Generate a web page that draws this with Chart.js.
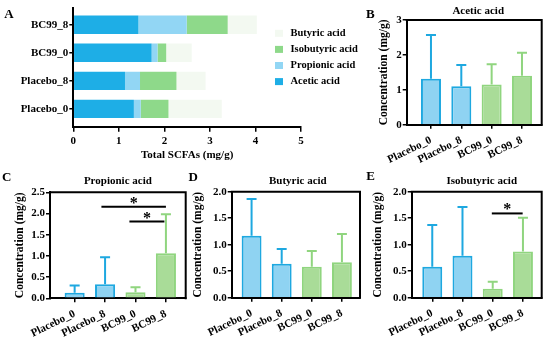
<!DOCTYPE html>
<html lang="en">
<head>
  <meta charset="utf-8">
  <title>SCFAs BC99 vs Placebo</title>
  <script src="https://cdn.jsdelivr.net/npm/chart.js"></script>
  <style>
    * { box-sizing:border-box; margin:0; padding:0 }
    body { background:#fff; width:550px; height:345px; overflow:hidden }
    #wrap { position:relative; width:550px; height:345px; background:#fff }
    canvas { position:absolute }
  </style>
</head>
<body>
  <div id="wrap">
    <canvas id="cA" width="390" height="165" style="left:0;top:0"></canvas>
    <canvas id="cB" width="205" height="165" style="left:345px;top:0"></canvas>
    <canvas id="cC" width="190" height="180" style="left:0;top:165px"></canvas>
    <canvas id="cD" width="180" height="180" style="left:185px;top:165px"></canvas>
    <canvas id="cE" width="185" height="180" style="left:365px;top:165px"></canvas>
  </div>

  <script>
  // ===== DATA =====
  const groups = ['Placebo_0', 'Placebo_8', 'BC99_0', 'BC99_8'];
  const acids  = ['Acetic acid', 'Propionic acid', 'Isobutyric acid', 'Butyric acid'];

  // panel A: stacked segments (mg/g), per group
  const totAcetic     = [1.33, 1.135, 1.72, 1.43];
  const totPropionic  = [0.15, 0.33, 0.13, 1.06];
  const totIsobutyric = [0.61, 0.80, 0.19, 0.90];
  const totButyric    = [1.17, 0.64, 0.56, 0.64];

  // panels B-E: mean and SD (mg/g)
  const aceticMean = [1.32, 1.10, 1.15, 1.40];
  const aceticSd   = [1.25, 0.61, 0.58, 0.66];
  const propMean   = [0.13, 0.33, 0.14, 1.06];
  const propSd     = [0.17, 0.64, 0.12, 0.92];
  const butMean    = [1.17, 0.64, 0.585, 0.67];
  const butSd      = [0.69, 0.28, 0.295, 0.53];
  const isoMean    = [0.585, 0.79, 0.17, 0.87];
  const isoSd      = [0.785, 0.92, 0.13, 0.64];

  // significance bars: from/to = group index, y = value
  const propSig = [{ from:0.88, to:3, y:2.16 }, { from:1.8, to:2.95, y:1.81 }];
  const isoSig  = [{ from:1.97, to:2.99, y:1.59 }];

  // ===== STYLE =====
  const serif = '"Liberation Serif", "Times New Roman", serif';
  const stackColors = ['#1eaee6', '#92d6f4', '#8ed98a', '#f3f9f1'];
  const fillCol = ['#8fd3f2', '#8fd3f2', '#a9dc98', '#a9dc98'];
  const lineCol = ['#1ea8e0', '#1ea8e0', '#90d57f', '#90d57f'];

  Chart.defaults.font.family = serif;
  Chart.defaults.font.weight = 'bold';
  Chart.defaults.color = '#000';

  // ===== PLUGINS =====
  const errorBars = {
    id: 'errorBars',
    afterDatasetsDraw(chart, args, opts) {
      if (!opts.sd) return;
      const ctx = chart.ctx, y = chart.scales.y;
      const ds = chart.data.datasets[0];
      ctx.save();
      ctx.lineWidth = 2;
      chart.getDatasetMeta(0).data.forEach((bar, i) => {
        const top = y.getPixelForValue(ds.data[i].y + opts.sd[i]);
        const cap = bar.width / 4;
        ctx.strokeStyle = lineCol[i];
        ctx.beginPath();
        ctx.moveTo(bar.x, bar.y);
        ctx.lineTo(bar.x, top);
        ctx.moveTo(bar.x - cap, top);
        ctx.lineTo(bar.x + cap, top);
        ctx.stroke();
      });
      ctx.restore();
    }
  };

  const sigBars = {
    id: 'sigBars',
    afterDatasetsDraw(chart, args, opts) {
      if (!opts.lines) return;
      const ctx = chart.ctx, x = chart.scales.x, y = chart.scales.y;
      ctx.save();
      ctx.strokeStyle = '#000';
      ctx.fillStyle = '#000';
      ctx.lineWidth = 2;
      ctx.font = 'bold 16px ' + serif;
      ctx.textAlign = 'center';
      ctx.textBaseline = 'alphabetic';
      opts.lines.forEach(s => {
        const x1 = x.getPixelForValue(s.from), x2 = x.getPixelForValue(s.to);
        const yp = y.getPixelForValue(s.y);
        ctx.beginPath();
        ctx.moveTo(x1, yp);
        ctx.lineTo(x2, yp);
        ctx.stroke();
        ctx.fillText('*', (x1 + x2) / 2, yp + 1);
      });
      ctx.restore();
    }
  };

  const frame = {
    id: 'frame',
    afterDraw(chart, args, opts) {
      if (!opts.on) return;
      const { left, top, right, bottom } = chart.chartArea;
      const ctx = chart.ctx;
      ctx.save();
      ctx.strokeStyle = '#000';
      ctx.lineWidth = 2;
      ctx.beginPath();
      ctx.moveTo(left - 1, top);
      ctx.lineTo(right, top);
      ctx.lineTo(right, bottom + 1);
      ctx.stroke();
      ctx.restore();
    }
  };

  const panelText = {
    id: 'panelText',
    afterDraw(chart, args, opts) {
      const ctx = chart.ctx, ca = chart.chartArea;
      ctx.save();
      ctx.fillStyle = '#000';
      ctx.textBaseline = 'middle';
      ctx.textAlign = 'center';
      ctx.font = 'bold 13px ' + serif;
      ctx.fillText(opts.letter, opts.lx, opts.ly);
      if (opts.title) {
        ctx.font = 'bold 11px ' + serif;
        ctx.fillText(opts.title, (ca.left + ca.right) / 2 + (opts.dx || 0), opts.ty);
      }
      ctx.restore();
    }
  };

  const sideLegend = {
    id: 'sideLegend',
    afterDraw(chart, args, opts) {
      if (!opts.on) return;
      const ctx = chart.ctx;
      const items = chart.data.datasets.slice().reverse();
      ctx.save();
      ctx.font = 'bold 10.5px ' + serif;
      ctx.textBaseline = 'middle';
      ctx.textAlign = 'left';
      items.forEach((ds, i) => {
        const yy = opts.y + i * opts.step;
        ctx.fillStyle = ds.backgroundColor;
        ctx.fillRect(opts.x, yy - 3.5, 8, 7);
        ctx.fillStyle = '#000';
        ctx.fillText(ds.label, opts.x + 15.5, yy);
      });
      ctx.restore();
    }
  };

  const axisGrid = { display:true, offset:false, drawOnChartArea:false, drawTicks:true, tickLength:4, color:'#000', lineWidth:1.5 };
  const axisBorder = { display:true, color:'#000', width:2 };

  // ===== PANEL A =====
  const totals = [totAcetic, totPropionic, totIsobutyric, totButyric];
  new Chart(document.getElementById('cA'), {
    type: 'bar',
    data: {
      datasets: acids.map((a, k) => ({
        label: a,
        data: totals[k].map((v, i) => ({ x: v, y: i })),
        backgroundColor: stackColors[k],
        borderWidth: 0,
        barPercentage: 0.655,
        categoryPercentage: 1
      }))
    },
    options: {
      indexAxis: 'y', responsive: false, animation: false,
      layout: { padding: { left: 0, top: 7, right: 89, bottom: 0 } },
      plugins: {
        legend: { display: false }, tooltip: { enabled: false },
        sideLegend: { on: true, x: 275, y: 33.3, step: 16.1 },
        panelText: { letter: 'A', lx: 9, ly: 15 }
      },
      scales: {
        x: {
          type: 'linear', stacked: true, min: 0, max: 5, offset: false,
          afterFit: s => { s.height = 38.3; },
          ticks: { stepSize: 1, font: { size: 11 }, padding: 3 },
          title: { display: true, text: 'Total SCFAs (mg/g)', font: { size: 11 }, padding: { top: 0, bottom: 3 } },
          grid: Object.assign({}, axisGrid, { tickLength: 5 }),
          border: axisBorder
        },
        y: {
          type: 'linear', stacked: true, min: -0.635, max: 3.61, offset: false,
          afterBuildTicks: s => { s.ticks = groups.map((g, i) => ({ value: i })); },
          afterFit: s => { s.width = 73.3; },
          ticks: { callback: v => groups[v], font: { size: 11 }, padding: 1, autoSkip: false },
          grid: axisGrid,
          border: axisBorder
        }
      }
    },
    plugins: [sideLegend, panelText]
  });

  // ===== PANELS B-E =====
  function barPanel(id, mean, sd, yMax, yStep, dec, xMin, xMax, L, text, sig) {
    return new Chart(document.getElementById(id), {
      type: 'bar',
      data: {
        datasets: [{
          data: mean.map((v, i) => ({ x: i, y: v })),
          backgroundColor: fillCol,
          borderColor: lineCol,
          borderWidth: 2,
          barPercentage: 0.66,
          categoryPercentage: 1
        }]
      },
      options: {
        responsive: false, animation: false,
        layout: { padding: { left: 0, top: L.top, right: L.right, bottom: 0 } },
        plugins: {
          legend: { display: false }, tooltip: { enabled: false },
          errorBars: { sd: sd },
          sigBars: { lines: sig },
          frame: { on: true },
          panelText: text
        },
        scales: {
          x: {
            type: 'linear', min: xMin, max: xMax, offset: false,
            afterBuildTicks: s => { s.ticks = groups.map((g, i) => ({ value: i })); },
            afterFit: s => { s.height = L.xh; },
            ticks: { callback: v => groups[v], minRotation: 26, maxRotation: 26, autoSkip: false, padding: 5, font: { size: 11 } },
            grid: axisGrid,
            border: axisBorder
          },
          y: {
            min: 0, max: yMax,
            afterFit: s => { s.width = L.left; },
            ticks: { stepSize: yStep, callback: v => v.toFixed(dec), font: { size: 11 }, padding: 1 },
            title: { display: true, text: 'Concentration (mg/g)', font: { size: 11.5 }, padding: { top: L.tp, bottom: 0 } },
            grid: axisGrid,
            border: axisBorder
          }
        }
      },
      plugins: [errorBars, sigBars, frame, panelText]
    });
  }

  barPanel('cB', aceticMean, aceticSd, 3, 1, 0, -0.80, 3.65,
    { left: 61.7, top: 20, right: 8.3, xh: 40.3, tp: 32 },
    { letter: 'B', lx: 25.3, ly: 15, title: 'Acetic acid', ty: 10.7, dx: 4 }, null);

  barPanel('cC', propMean, propSd, 2.5, 0.5, 1, -0.81, 3.65,
    { left: 50, top: 27.3, right: 4.3, xh: 46.7, tp: 13 },
    { letter: 'C', lx: 6.7, ly: 12.3, title: 'Propionic acid', ty: 15.7, dx: 0 }, propSig);

  barPanel('cD', butMean, butSd, 2, 0.5, 1, -0.66, 3.6,
    { left: 46.7, top: 26.7, right: 5, xh: 47.3, tp: 6.4 },
    { letter: 'D', lx: 8.3, ly: 12.3, title: 'Butyric acid', ty: 15.7, dx: 2 }, null);

  barPanel('cE', isoMean, isoSd, 2, 0.5, 1, -0.68, 3.62,
    { left: 46.7, top: 26.7, right: 8.3, xh: 47.3, tp: 6.4 },
    { letter: 'E', lx: 5.7, ly: 12, title: 'Isobutyric acid', ty: 15.7, dx: 5 }, isoSig);
  </script>
</body>
</html>
